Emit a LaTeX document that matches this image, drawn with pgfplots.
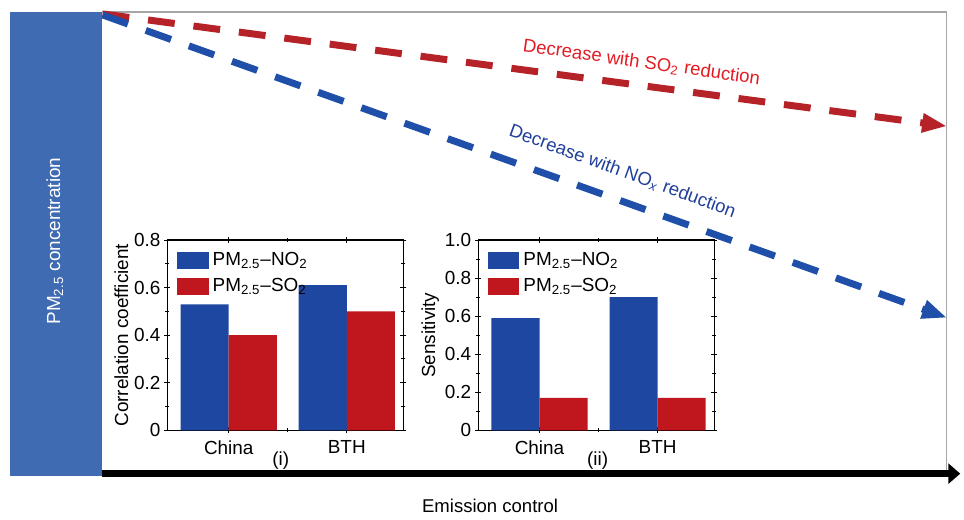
\documentclass[border=0pt]{standalone}
\usepackage{fontspec}
\setmainfont{Liberation Sans}
\usepackage{pgfplots}
\pgfplotsset{compat=1.18}
\usetikzlibrary{arrows.meta}
\definecolor{barblue}{HTML}{1D47A0}
\definecolor{barred}{HTML}{C0161E}
\definecolor{sideblue}{HTML}{3F6BB3}
\definecolor{arrred}{HTML}{B52228}
\definecolor{arrblue}{HTML}{1F4FA8}
\definecolor{txtred}{HTML}{E31B23}
\definecolor{txtblue}{HTML}{203F9A}

\newcommand{\pmno}{PM\textsubscript{2.5}--NO\textsubscript{2}}
\newcommand{\pmso}{PM\textsubscript{2.5}--SO\textsubscript{2}}

\pgfplotsset{
  inset/.style={
    scale only axis, width=118.5pt, height=95.5pt,
    clip=false,
    ybar=0pt, bar width=0.407,
    xmin=-0.52, xmax=1.48, ymin=0,
    xtick={0,1}, xticklabels={China,BTH},
    minor xtick={0.5},
    tick align=center,
    major tick length=3pt, minor tick length=2pt,
    tick style={black, line width=0.5pt},
    axis line style={line width=0.6pt},
    font=\fontsize{9.5}{11}\selectfont,
    ticklabel style={font=\fontsize{9.5}{11}\selectfont},
    yticklabel style={xshift=1.5pt},
    ylabel style={yshift=-4pt},
    /pgf/number format/assume math mode=true,
    legend style={draw=none, fill=none, at={(0.03,0.97)}, anchor=north west,
      font=\fontsize{9.5}{11}\selectfont, row sep=1pt, inner sep=1pt},
    legend cell align=left,
    legend image code/.code={\fill[##1] (0pt,-4.2pt) rectangle (16pt,4.2pt);},
  },
}

\begin{document}
\begin{tikzpicture}
\begin{scope}[x=0.5pt, y=-0.5pt, yshift=258pt]
  % page extent
  \path (0,0) rectangle (964,516);
  % frame and concentration bar
  \draw[gray!70, line width=0.7pt] (102,12) -- (950,12) -- (950,474);
  \fill[sideblue] (10,12) rectangle (102,478);
  \node[white, rotate=90, font=\fontsize{9.5}{11}\selectfont] at (55,242)
    {PM\textsubscript{2.5} concentration};
  % emission control axis
  \draw[black, line width=3.75pt, -{Triangle[length=6pt, width=10pt]}] (102,475.5) -- (964,475.5);
  \node[font=\fontsize{9.3}{11}\selectfont] at (492,508) {Emission control};
  % dashed trend arrows
  \draw[arrred, line width=3.5pt, dash pattern=on 13.5pt off 9.5pt,
    -{Triangle[length=12.5pt, width=9pt]}] (103,14) -- (950.7,126.7);
  \draw[arrblue, line width=3.5pt, dash pattern=on 13.5pt off 9.5pt,
    -{Triangle[length=12.5pt, width=9pt]}] (103,15) -- (950.7,319);
  \node[txtred, rotate=-8, font=\fontsize{9.3}{11}\selectfont] at (644,63)
    {Decrease with SO\textsubscript{2} reduction};
  \node[txtblue, rotate=-20, font=\fontsize{9.3}{11}\selectfont] at (625,172)
    {Decrease with NO\textsubscript{\textit{x}} reduction};
\end{scope}

% inset (i)
\begin{axis}[inset, at={(84pt,42pt)}, anchor=south west,
  ymax=0.8, ytick={0,0.2,0.4,0.6,0.8}, minor ytick={0.1,0.3,0.5,0.7},
  ylabel={Correlation coefficient}]
\addplot[fill=barblue, draw=none, bar shift=-0.2035] coordinates {(0,0.53) (1,0.61)};
\addplot[fill=barred, draw=none, bar shift=0.2035] coordinates {(0,0.40) (1,0.50)};
\legend{\pmno, \pmso}
\node at (rel axis cs:0.48,-0.157) {(i)};
\end{axis}

% inset (ii)
\begin{axis}[inset, at={(240pt,42pt)}, anchor=south west,
  ymax=1.0, ytick={0,0.2,0.4,0.6,0.8,1.0}, yticklabels={0,0.2,0.4,0.6,0.8,1.0},
  minor ytick={0.1,0.3,0.5,0.7,0.9},
  ylabel={Sensitivity}]
\addplot[fill=barblue, draw=none, bar shift=-0.2035] coordinates {(0,0.59) (1,0.70)};
\addplot[fill=barred, draw=none, bar shift=0.2035] coordinates {(0,0.17) (1,0.17)};
\legend{\pmno, \pmso}
\node at (rel axis cs:0.506,-0.157) {(ii)};
\end{axis}
\end{tikzpicture}
\end{document}
